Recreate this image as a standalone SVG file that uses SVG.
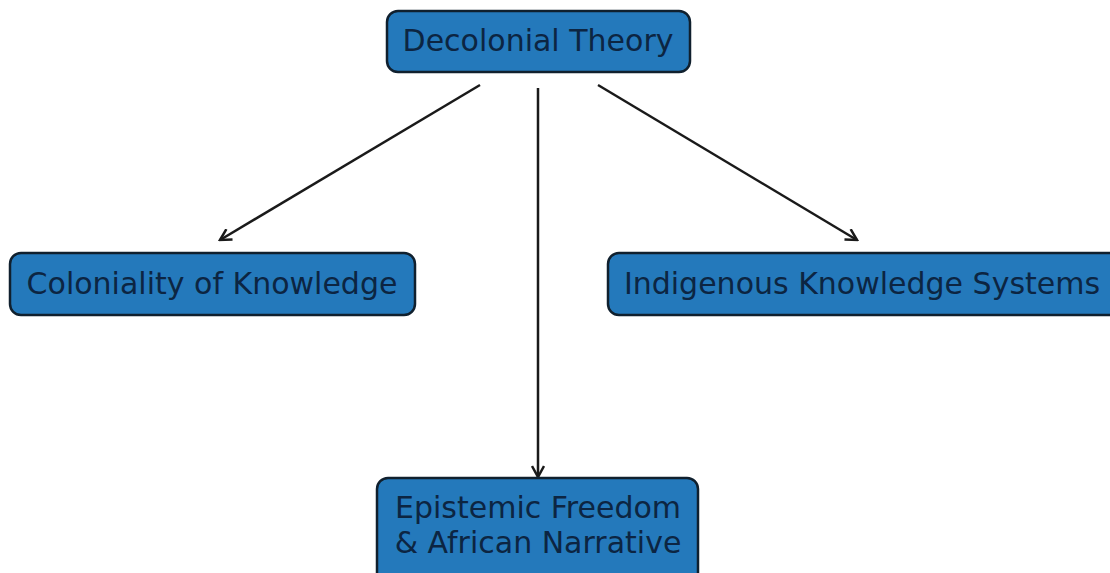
<svg xmlns="http://www.w3.org/2000/svg" width="1110" height="573" viewBox="0 0 1110 573">
<style>
.box{fill:#2479bb;stroke:#10202e;stroke-width:2.5}
.lbl{font-family:"DejaVu Sans",sans-serif;font-size:30px;fill:#0c2542;text-anchor:middle}
.edge{stroke:#1a1a1a;stroke-width:2.5;fill:none}
</style>
<defs>
<marker id="ah" markerWidth="14" markerHeight="14" refX="12" refY="7" orient="auto" markerUnits="userSpaceOnUse">
<path d="M1,1 L12,7 L1,13" fill="none" stroke="#1a1a1a" stroke-width="2.5"/>
</marker>
</defs>
<rect width="1110" height="573" fill="#ffffff"/>
<g id="connectors">
<line class="edge" x1="480" y1="85" x2="220" y2="240" marker-end="url(#ah)"/>
<line class="edge" x1="538" y1="88" x2="538" y2="477" marker-end="url(#ah)"/>
<line class="edge" x1="598" y1="85" x2="857" y2="240" marker-end="url(#ah)"/>
</g>
<g id="decolonial">
<rect class="box" x="387" y="11" width="303" height="61" rx="11"/>
<text class="lbl" x="538" y="51">Decolonial Theory</text>
</g>
<g id="coloniality">
<rect class="box" x="10" y="253" width="405" height="62" rx="11"/>
<text class="lbl" x="212" y="294">Coloniality of Knowledge</text>
</g>
<g id="indigenous">
<rect class="box" x="608" y="253" width="520" height="62" rx="11"/>
<text class="lbl" x="862" y="294">Indigenous Knowledge Systems</text>
</g>
<g id="epistemic">
<rect class="box" x="377" y="478" width="321" height="110" rx="11"/>
<text class="lbl" x="538" y="518">Epistemic Freedom</text>
<text class="lbl" x="538" y="553">&amp; African Narrative</text>
</g>
</svg>
